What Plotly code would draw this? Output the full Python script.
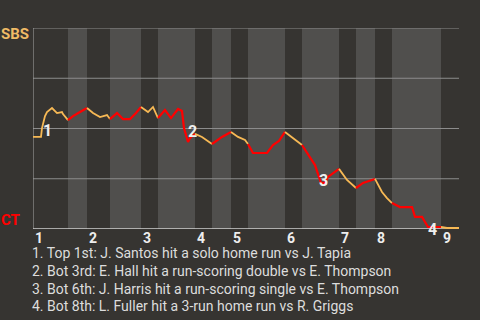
import plotly.graph_objects as go

# ---- data ----
# game progress (0..426 units) and SBS win probability (%)
progress = [0, 8, 9, 12, 14, 19, 24, 29, 30, 35,
            40, 47, 54,
            60, 67, 74, 77,
            84, 90, 97, 103, 108,
            115, 120, 125,
            132, 138, 145, 149, 151, 155, 157, 162,
            169, 179,
            189, 198,
            205, 212, 215,
            220, 234, 240, 246, 252,
            260, 269,
            277, 282, 288, 292, 295, 306,
            314, 323,
            330, 342,
            349, 354, 359,
            367, 379, 382, 389, 395, 408,
            414, 426]
sbs_wp = [45.8, 45.8, 50.2, 56.2, 58.2, 60.2, 57.7, 58.2, 57.2, 54.2,
          56.2, 58.2, 60.2,
          57.7, 55.7, 56.7, 54.7,
          57.7, 54.7, 54.7, 57.7, 60.7,
          58.2, 60.7, 55.2,
          59.2, 55.2, 59.7, 58.7, 50.2, 43.3, 45.3, 47.3,
          45.8, 42.3,
          45.8, 48.3,
          45.8, 44.3, 42.3,
          37.8, 37.8, 41.8, 43.8, 48.3,
          45.3, 41.8,
          35.8, 31.8, 22.9, 22.9, 25.9, 29.9,
          24.4, 20.4,
          22.9, 24.9,
          18.4, 15.4, 12.9,
          10.9, 10.9, 6.0, 6.0, 1.0, 1.0,
          0.5, 0.5]
half_inning_starts = [0, 35, 54, 77, 108, 125, 162, 179, 198, 215,
                      252, 269, 306, 323, 342, 359, 408, 426]
inning_labels = ["1", "2", "3", "4", "5", "6", "7", "8", "9"]
event_labels = ["1", "2", "3", "4"]
event_progress = [14, 159, 290, 399]
event_wp = [48.8, 48.3, 23.9, 0.0]
event_texts = [
    "1. Top 1st: J. Santos hit a solo home run vs J. Tapia",
    "2. Bot 3rd: E. Hall hit a run-scoring double vs E. Thompson",
    "3. Bot 6th: J. Harris hit a run-scoring single vs E. Thompson",
    "4. Bot 8th: L. Fuller hit a 3-run home run vs R. Griggs",
]

BG = "#363431"
LIGHT = "#504f4d"
ORANGE = "#f7b955"
RED = "#ff0000"
FONT = "Roboto"

fig = go.Figure()
shapes = []
xmax = half_inning_starts[-1]

# half-inning bands (bottom halves lighter)
for i in range(len(half_inning_starts) - 1):
    if i % 2 == 1:
        shapes.append(dict(type="rect", xref="x", yref="y", layer="below",
                           x0=half_inning_starts[i], x1=half_inning_starts[i + 1],
                           y0=0, y1=100, fillcolor=LIGHT, line=dict(width=0)))
# grid lines
for g in [25, 50, 75, 100]:
    shapes.append(dict(type="line", xref="x", yref="y", layer="below",
                       x0=0, x1=xmax, y0=g, y1=g, line=dict(color="#8c8c8c", width=1)))
shapes.append(dict(type="line", xref="x", yref="y", layer="below",
                   x0=0, x1=0, y0=0, y1=100, line=dict(color="#a8a8a8", width=1)))
shapes.append(dict(type="line", xref="x", yref="y", layer="below",
                   x0=0, x1=xmax, y0=0, y1=0, line=dict(color="#d0d0d0", width=1.5)))

# line segments coloured by half inning
for i in range(len(half_inning_starts) - 1):
    a, b = half_inning_starts[i], half_inning_starts[i + 1]
    xs = [p for p in progress if a <= p <= b]
    ys = [w for p, w in zip(progress, sbs_wp) if a <= p <= b]
    top = i % 2 == 0
    fig.add_trace(go.Scatter(x=xs, y=ys, mode="lines",
                             line=dict(color=ORANGE if top else RED,
                                       width=1.8 if top else 2.2),
                             hoverinfo="skip", showlegend=False))

annotations = []
for lab, ev_x, ev_y in zip(event_labels, event_progress, event_wp):
    annotations.append(dict(x=ev_x, y=ev_y, xref="x", yref="y", text=f"<b>{lab}</b>",
                            showarrow=False, font=dict(family=FONT, size=16, color="#eeeeee")))
for lab, k in zip(inning_labels, range(0, len(half_inning_starts), 2)):
    annotations.append(dict(x=half_inning_starts[k], y=0, xref="x", yref="paper",
                            text=f"<b>{lab}</b>", showarrow=False, xanchor="left",
                            yanchor="middle", yshift=-9, xshift=0,
                            font=dict(family=FONT, size=14, color="#eeeeee")))
for j, t in enumerate(event_texts):
    annotations.append(dict(x=0, y=0, xref="x", yref="paper", text=t, showarrow=False,
                            xanchor="left", yanchor="middle", yshift=-24 - 17.8 * j,
                            xshift=-3,
                            font=dict(family=FONT, size=14, color="#dddddd")))
annotations.append(dict(x=0, y=1, xref="paper", yref="paper", text="<b>SBS</b>",
                        showarrow=False, xanchor="right", yanchor="middle",
                        xshift=-2, yshift=-6,
                        font=dict(family=FONT, size=15, color="#f0bb66")))
annotations.append(dict(x=0, y=0, xref="paper", yref="paper", text="<b>CT</b>",
                        showarrow=False, xanchor="right", yanchor="middle",
                        xshift=-11, yshift=9,
                        font=dict(family=FONT, size=15, color=RED)))

fig.update_layout(
    width=480, height=320,
    margin=dict(l=33, r=21, t=28, b=91),
    paper_bgcolor=BG, plot_bgcolor=BG,
    xaxis=dict(range=[0, xmax], visible=False, fixedrange=True),
    yaxis=dict(range=[0, 100], visible=False, fixedrange=True),
    shapes=shapes, annotations=annotations,
    font=dict(family=FONT),
)
fig.write_html("out.html", config={"displayModeBar": False})
